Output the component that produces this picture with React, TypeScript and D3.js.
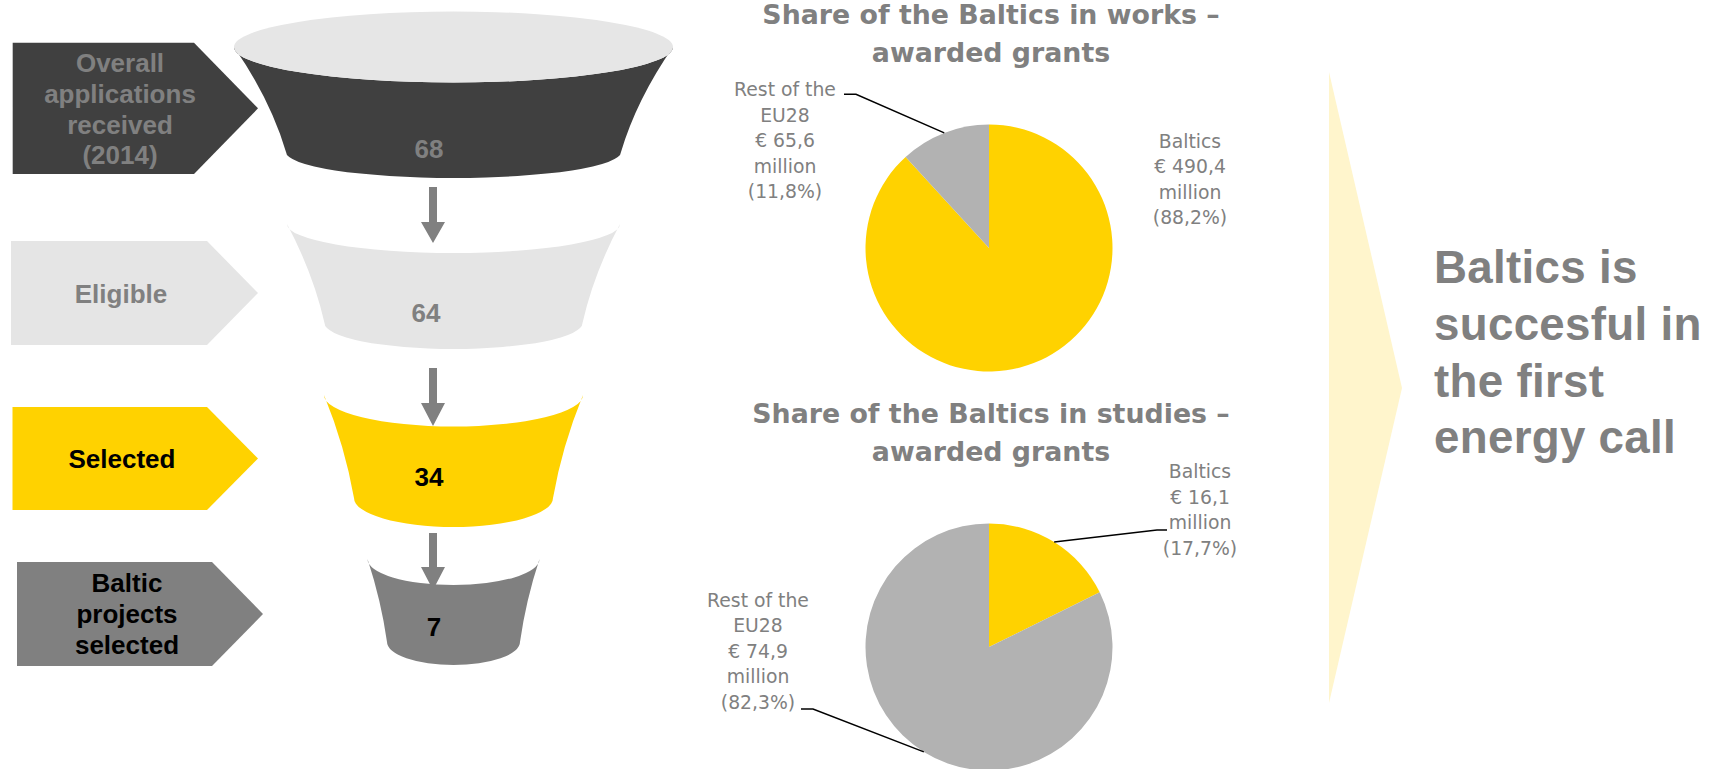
import React from 'react';
import * as d3 from 'd3';

// ---------- DATA ----------
const stageLabels: string[][] = [
  ['Overall', 'applications', 'received', '(2014)'],
  ['Eligible'],
  ['Selected'],
  ['Baltic', 'projects', 'selected'],
];
const stageValues = [68, 64, 34, 7];

const pieCategoryLines: string[][] = [['Baltics'], ['Rest of the', 'EU28']];
const worksValues = [490.4, 65.6];
const studiesValues = [16.1, 74.9];

const worksTitle = ['Share of the Baltics in works –', 'awarded grants'];
const studiesTitle = ['Share of the Baltics in studies –', 'awarded grants'];
const conclusionLines = ['Baltics is', 'succesful in', 'the first', 'energy call'];

// ---------- STYLE / LAYOUT ----------
const W = 1714;
const H = 769;
const YELLOW = '#FFD200';
const GRAY_TEXT = '#808080';
const stageFill = ['#404040', '#E5E5E5', YELLOW, '#808080'];
const stageText = ['#808080', '#808080', '#000000', '#000000'];
const pieFill = [YELLOW, '#B2B2B2'];

const FCX = 453.5; // funnel centre
// [topY, topHalfWidth, topDip, botY, botHalfWidth, botDip]
const funnelGeom = [
  [47, 219.5, 35.5, 152, 167.5, 26],
  [224, 166.5, 29, 323, 129, 26],
  [395, 129.5, 31.5, 498, 99.5, 29],
  [559, 86, 26, 642, 66.5, 23],
];
const numberPos = [
  [429, 158.3],
  [426, 321.7],
  [429, 486],
  [434, 636],
];
// label boxes: [left, top, bodyRight, tip, bottom]
const boxGeom = [
  [12.7, 42.7, 194, 258, 174],
  [11, 241, 207, 258, 345],
  [12.5, 407, 207, 258, 510],
  [17, 562, 212, 263, 666],
];
const boxTextPos = [
  { x: 120, ys: [71.7, 102.6, 133.5, 164.4] },
  { x: 121, ys: [302.7] },
  { x: 122, ys: [468] },
  { x: 127, ys: [592, 623, 654] },
];
// arrows: [shaftTop, headStart, tip]
const arrowGeom = [
  [187, 222, 243],
  [368, 403, 426],
  [533, 567, 590],
];
const ARROW_X = 433;

const PIE_R = 123.5;
const pies = [
  {
    values: worksValues,
    title: worksTitle,
    cx: 989,
    cy: 248,
    titleYs: [23.5, 62.3],
    labels: [
      { cx: 1190, y0: 147.7, leader: null as null | number[][] },
      { cx: 785, y0: 96, leader: [[844, 94.3], [856, 94.3]] },
    ],
  },
  {
    values: studiesValues,
    title: studiesTitle,
    cx: 989,
    cy: 647,
    titleYs: [423, 461],
    labels: [
      { cx: 1200, y0: 478.3, leader: [[1167, 530], [1157, 530]] },
      { cx: 758, y0: 606.7, leader: [[801, 709], [813, 709]] },
    ],
  },
];
const LINE_H = 25.5;

const fmt1 = (v: number) => d3.format('.1f')(v).replace('.', ',');

function funnelPath(g: number[]) {
  const [ty, thw, tdip, by, bhw, bdip] = g;
  const tl = FCX - thw, tr = FCX + thw, bl = FCX - bhw, br = FCX + bhw;
  const cL = [tl * 0.3 + bl * 0.7, (ty + by) / 2];
  const cR = [tr * 0.3 + br * 0.7, (ty + by) / 2];
  const topArc = `A${thw},${tdip} 0 0 0 ${tr},${ty}`;
  const botArc = `A${bhw},${bdip} 0 0 1 ${bl},${by}`;
  return `M${tl},${ty} ${topArc} Q${cR[0]},${cR[1]} ${br},${by} ${botArc} Q${cL[0]},${cL[1]} ${tl},${ty} Z`;
}

export default function App() {
  const arcGen = d3.arc<d3.PieArcDatum<number>>().innerRadius(0).outerRadius(PIE_R);
  const pieGen = d3.pie<number>().sort(null).value((d) => d);

  return (
    <svg
      width={W}
      height={H}
      viewBox={`0 0 ${W} ${H}`}
      style={{ position: 'absolute', left: 0, top: 0, background: '#fff' }}
    >
      {/* Label boxes */}
      {boxGeom.map((b, i) => {
        const [l, t, r, tip, bt] = b;
        const mid = (t + bt) / 2;
        return (
          <g key={'box' + i}>
            <polygon
              points={`${l},${t} ${r},${t} ${tip},${mid} ${r},${bt} ${l},${bt}`}
              fill={stageFill[i]}
            />
            {stageLabels[i].map((line, j) => (
              <text
                key={j}
                x={boxTextPos[i].x}
                y={boxTextPos[i].ys[j]}
                textAnchor="middle"
                fontFamily="'Liberation Sans', Arial, sans-serif"
                fontWeight="bold"
                fontSize={26}
                fill={stageText[i]}
              >
                {line}
              </text>
            ))}
          </g>
        );
      })}

      {/* Funnel */}
      {funnelGeom.map((g, i) => (
        <path key={'f' + i} d={funnelPath(g)} fill={stageFill[i]} />
      ))}
      <ellipse
        cx={FCX}
        cy={funnelGeom[0][0]}
        rx={funnelGeom[0][1]}
        ry={funnelGeom[0][2]}
        fill="#E6E6E6"
      />
      {stageValues.map((v, i) => (
        <text
          key={'n' + i}
          x={numberPos[i][0]}
          y={numberPos[i][1]}
          textAnchor="middle"
          fontFamily="'Liberation Sans', Arial, sans-serif"
          fontWeight="bold"
          fontSize={26}
          fill={stageText[i]}
        >
          {v}
        </text>
      ))}
      {arrowGeom.map((a, i) => {
        const [s, h, t] = a;
        return (
          <polygon
            key={'a' + i}
            points={`${ARROW_X - 4},${s} ${ARROW_X + 4},${s} ${ARROW_X + 4},${h} ${ARROW_X + 12},${h} ${ARROW_X},${t} ${ARROW_X - 12},${h} ${ARROW_X - 4},${h}`}
            fill="#808080"
          />
        );
      })}

      {/* Pies */}
      {pies.map((pc, pi) => {
        const arcs = pieGen(pc.values);
        const total = d3.sum(pc.values);
        return (
          <g key={'pie' + pi}>
            {pc.title.map((t, j) => (
              <text
                key={j}
                x={991}
                y={pc.titleYs[j]}
                textAnchor="middle"
                fontFamily="'DejaVu Sans', sans-serif"
                fontWeight="bold"
                fontSize={26.8}
                fill={GRAY_TEXT}
              >
                {t}
              </text>
            ))}
            <g transform={`translate(${pc.cx},${pc.cy})`}>
              {arcs.map((a, k) => (
                <path key={k} d={arcGen(a) || ''} fill={pieFill[k]} />
              ))}
            </g>
            {arcs.map((a, k) => {
              const lab = pc.labels[k];
              const lines = [
                ...pieCategoryLines[k],
                '€ ' + fmt1(pc.values[k]),
                'million',
                '(' + fmt1((pc.values[k] / total) * 100) + '%)',
              ];
              const mid = (a.startAngle + a.endAngle) / 2;
              const ex = pc.cx + Math.sin(mid) * PIE_R;
              const ey = pc.cy - Math.cos(mid) * PIE_R;
              return (
                <g key={'lab' + k}>
                  {lab.leader && (
                    <polyline
                      points={`${lab.leader[0][0]},${lab.leader[0][1]} ${lab.leader[1][0]},${lab.leader[1][1]} ${ex},${ey}`}
                      fill="none"
                      stroke="#000"
                      strokeWidth={1.5}
                    />
                  )}
                  {lines.map((ln, j) => (
                    <text
                      key={j}
                      x={lab.cx}
                      y={lab.y0 + j * LINE_H}
                      textAnchor="middle"
                      fontFamily="'DejaVu Sans', sans-serif"
                      fontSize={18.8}
                      fill={GRAY_TEXT}
                    >
                      {ln}
                    </text>
                  ))}
                </g>
              );
            })}
          </g>
        );
      })}

      {/* Conclusion chevron */}
      <polygon points="1329,72 1402,388 1329,703" fill="#FFF5CC" />
      {conclusionLines.map((t, i) => (
        <text
          key={'c' + i}
          x={1434}
          y={283.3 + i * 56.6}
          fontFamily="'Liberation Sans', Arial, sans-serif"
          fontWeight="bold"
          fontSize={45.7}
          letterSpacing={0.3}
          fill={GRAY_TEXT}
        >
          {t}
        </text>
      ))}
    </svg>
  );
}
